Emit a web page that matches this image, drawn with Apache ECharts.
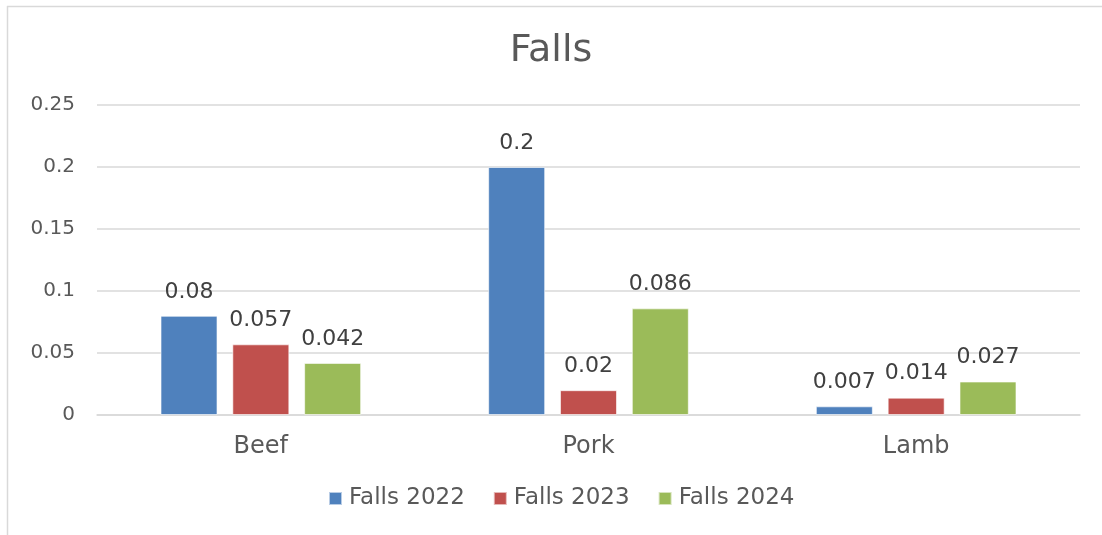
<!DOCTYPE html>
<html>
<head>
<meta charset="utf-8">
<title>Falls</title>
<script src="https://cdn.jsdelivr.net/npm/echarts@6/dist/echarts.min.js"></script>
<style>
  html, body { margin: 0; padding: 0; background: #fff; }
  #main { width: 1102px; height: 535px; }
</style>
</head>
<body>
<div id="main"></div>
<script>
// data
var categories = ['Beef', 'Pork', 'Lamb'];
var seriesNames = ['Falls 2022', 'Falls 2023', 'Falls 2024'];
var falls2022 = [0.08, 0.2, 0.007];
var falls2023 = [0.057, 0.02, 0.014];
var falls2024 = [0.042, 0.086, 0.027];
var colors = ['#4F81BD', '#C0504D', '#9BBB59'];

var fontName = '"DejaVu Sans", sans-serif';
var textColor = '#595959';

function makeBar(name, values, color) {
    return {
        name: name,
        type: 'bar',
        data: values,
        barWidth: 57,
        barGap: '26%',
        itemStyle: {
            color: color,
            borderColor: 'rgba(255,255,255,0.6)',
            borderWidth: 1
        },
        label: {
            show: true,
            position: 'top',
            distance: 13,
            color: '#404040',
            fontFamily: fontName,
            fontSize: 22
        }
    };
}

var myChart = echarts.init(document.getElementById('main'));
myChart.setOption({
    animation: false,
    title: {
        text: 'Falls',
        left: 'center',
        top: 27,
        textStyle: {
            color: textColor,
            fontFamily: fontName,
            fontWeight: 'normal',
            fontSize: 38
        }
    },
    // thin chart-area border (top and left only are visible)
    graphic: [
        { type: 'line', shape: { x1: 7, y1: 6.5, x2: 1102, y2: 6.5 }, style: { stroke: '#d9d9d9', lineWidth: 1.5 } },
        { type: 'line', shape: { x1: 7.5, y1: 6, x2: 7.5, y2: 535 }, style: { stroke: '#d9d9d9', lineWidth: 1.5 } }
    ],
    legend: {
        data: seriesNames,
        bottom: 20,
        left: 323,
        itemWidth: 13,
        itemHeight: 13,
        itemGap: 28,
        icon: 'rect',
        textStyle: {
            color: textColor,
            fontFamily: fontName,
            fontSize: 23,
            padding: [0, 0, 0, 2]
        }
    },
    grid: {
        left: 97,
        right: 22,
        top: 105,
        bottom: 120
    },
    xAxis: {
        type: 'category',
        data: categories,
        axisTick: { show: false },
        axisLine: { lineStyle: { color: '#d9d9d9', width: 1.5 } },
        axisLabel: {
            color: textColor,
            fontFamily: fontName,
            fontSize: 24,
            margin: 20
        }
    },
    yAxis: {
        type: 'value',
        min: 0,
        max: 0.25,
        interval: 0.05,
        axisLine: { show: false },
        axisTick: { show: false },
        splitLine: { lineStyle: { color: '#d9d9d9', width: 1.5 } },
        axisLabel: {
            color: textColor,
            fontFamily: fontName,
            fontSize: 20,
            margin: 22,
            formatter: function (v) { return String(+v.toFixed(2)); }
        }
    },
    series: [
        makeBar(seriesNames[0], falls2022, colors[0]),
        makeBar(seriesNames[1], falls2023, colors[1]),
        makeBar(seriesNames[2], falls2024, colors[2])
    ]
});
</script>
</body>
</html>
